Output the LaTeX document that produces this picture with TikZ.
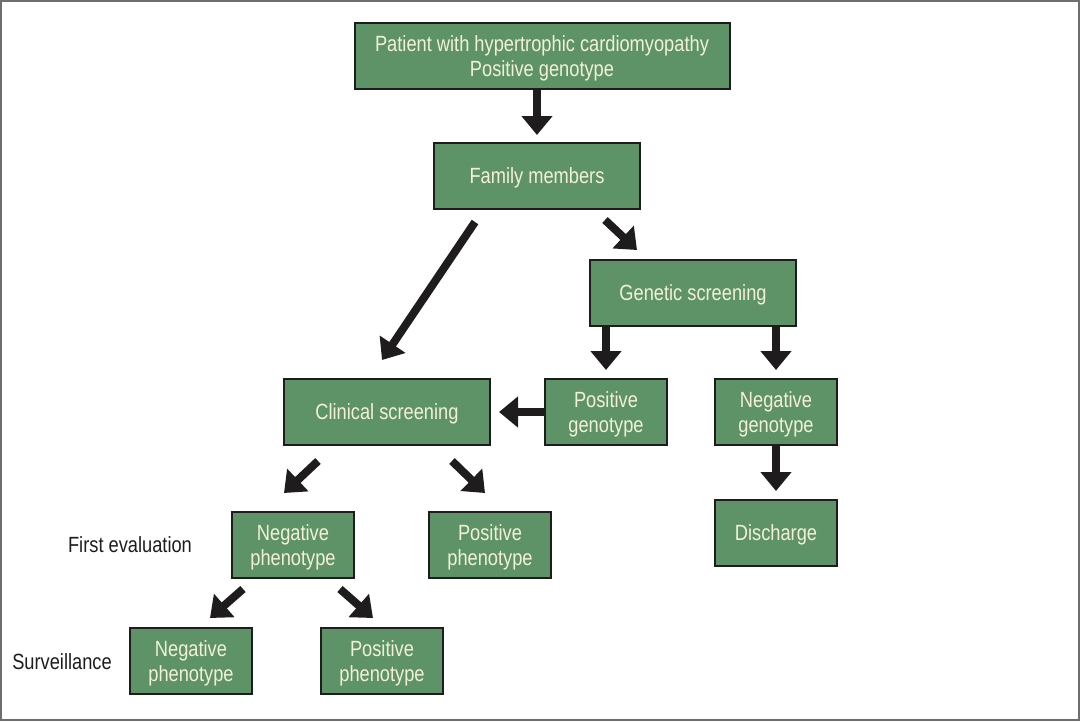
\documentclass[tikz,border=0pt]{standalone}
\usepackage{fontspec}
\setmainfont{Liberation Sans}[FakeStretch=0.83]
\usepackage{tikz}
\usetikzlibrary{calc,arrows.meta}
\definecolor{leaf}{HTML}{5E9367}
\definecolor{ink}{HTML}{1F1C1D}
\definecolor{cream}{HTML}{F3F0D7}
\definecolor{frame}{HTML}{6E6E6E}

\begin{document}
\begin{tikzpicture}[
    x=1pt, y=-1pt,
    box/.style={draw=ink, fill=leaf, text=cream, align=center, line width=2pt,
                minimum width=122pt, minimum height=66pt, inner sep=2pt, text depth=0pt,
                font=\fontsize{22}{25}\selectfont},
    wide/.style={box, minimum width=206pt},
    flow/.style={-{Triangle[length=19pt,width=30pt]}, draw=ink, line width=8pt},
    lbl/.style={text=ink, inner sep=0pt, font=\fontsize{22}{25}\selectfont},
  ]
  \useasboundingbox (0,0) rectangle (1080,721);
  \draw[frame, line width=2pt] (1,1) rectangle (1079,720);

  \node[box, minimum width=375pt] at (542,56)  (top)    {Patient with hypertrophic cardiomyopathy\\Positive genotype};
  \node[wide] at (537,176)  (fam)    {Family members};
  \node[wide] at (693,293)  (gen)    {Genetic screening};
  \node[wide] at (387,412)  (clin)   {Clinical screening};
  \node[box]  at (606,412)  (posgen) {Positive\\genotype};
  \node[box]  at (776,412)  (neggen) {Negative\\genotype};
  \node[box]  at (776,533)  (disch)  {Discharge};
  \node[box]  at (293,545)  (negph)  {Negative\\phenotype};
  \node[box]  at (490,545)  (posph)  {Positive\\phenotype};
  \node[box]  at (191,661)  (negsv)  {Negative\\phenotype};
  \node[box]  at (382,661)  (possv)  {Positive\\phenotype};

  \node[lbl] at (130,545) (first) {First evaluation};
  \node[lbl] at (62,662)  (surv)  {Surveillance};

  \draw[flow, shorten >=7pt] (fam.north |- top.south) -- (fam.north);
  \draw[flow] ($(fam.south)+(-62,12)$) -- ($(clin.north)+(-5,-18)$);
  \draw[flow] ($(fam.south)+(68,10)$) -- ($(gen.north)+(-56,-9)$);
  \draw[flow, shorten >=8pt] (posgen.north |- gen.south) -- (posgen.north);
  \draw[flow, shorten >=8pt] (neggen.north |- gen.south) -- (neggen.north);
  \draw[flow, shorten >=8pt] (posgen.west) -- (clin.east);
  \draw[flow, shorten >=8pt] (neggen.south) -- (disch.north);
  \draw[flow] ($(clin.south)+(-69,15)$) -- ($(negph.north)+(-9,-18)$);
  \draw[flow] ($(clin.south)+(65,15)$) -- ($(posph.north)+(-5,-18)$);
  \draw[flow] ($(negph.south)+(-50,10)$) -- ($(negsv.north)+(19,-9)$);
  \draw[flow] ($(negph.south)+(47,10)$) -- ($(possv.north)+(-9,-9)$);
\end{tikzpicture}
\end{document}
